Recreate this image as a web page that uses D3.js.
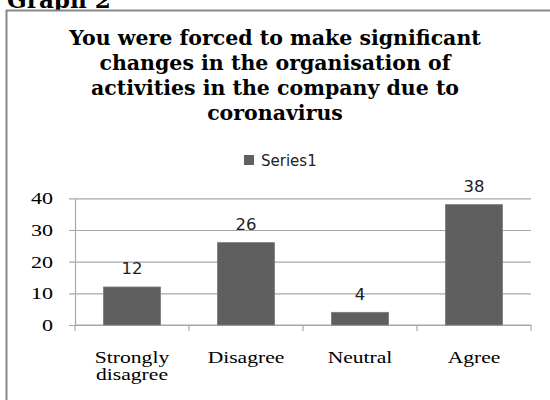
<!DOCTYPE html>
<html>
<head>
<meta charset="utf-8">
<script src="https://cdn.jsdelivr.net/npm/d3@7"></script>
<style>
  html, body { margin: 0; padding: 0; background: #fff; }
  svg { display: block; }
</style>
</head>
<body>
<svg id="chart" width="550" height="400"></svg>
<script>
// Survey answers: forced changes in organisation of company activities due to coronavirus
const categories = ["Strongly disagree", "Disagree", "Neutral", "Agree"];
const categoryLines = [["Strongly", "disagree"], ["Disagree"], ["Neutral"], ["Agree"]];
const series1 = [12, 26, 4, 38];
const yTicks = [0, 10, 20, 30, 40];
const seriesName = "Series1";
const titleLines = [
  "You were forced to make significant",
  "changes in the organisation of",
  "activities in the company due to",
  "coronavirus"
];

const W = 550, H = 400;
const svg = d3.select("#chart");
const serif = "'Liberation Serif', 'DejaVu Serif', serif";
const boldSerif = "'DejaVu Serif', 'Liberation Serif', serif";
const sans = "'DejaVu Sans', Verdana, sans-serif";

// text stretched horizontally (wide rendering of the original fonts)
function wideText(g, x, y, str, opts) {
  return g.append("text")
    .attr("transform", `translate(${x},${y}) scale(${opts.sx || 1},1)`)
    .attr("text-anchor", opts.anchor || "middle")
    .style("font-family", opts.family)
    .style("font-size", opts.size + "px")
    .style("font-weight", opts.weight || "normal")
    .attr("fill", opts.fill || "#000")
    .text(str);
}

svg.append("rect").attr("width", W).attr("height", H).attr("fill", "#fff");

// heading above the chart frame
wideText(svg, 7, 8, "Graph 2", { family: boldSerif, size: 22, weight: "bold", sx: 1.05, anchor: "start" });

// chart frame
svg.append("rect")
  .attr("x", 6.5).attr("y", 10.5)
  .attr("width", 560).attr("height", 400)
  .attr("fill", "#fff")
  .attr("stroke", "#888").attr("stroke-width", 2);

// title
titleLines.forEach((line, i) => {
  wideText(svg, 275, 45 + i * 25, line, { family: boldSerif, size: 20.5, weight: "bold", sx: 1.0 });
});

// legend
const legend = svg.append("g");
legend.append("rect").attr("x", 244).attr("y", 155).attr("width", 10).attr("height", 10).attr("fill", "#606060");
legend.append("text")
  .attr("x", 261).attr("y", 165.5)
  .style("font-family", sans).style("font-size", "15px").attr("fill", "#222")
  .text(seriesName);

// scales
const plot = { left: 75, right: 531, top: 198.3, bottom: 325 };
const x = d3.scaleBand().domain(categories).range([plot.left, plot.right]).paddingInner(0.5).paddingOuter(0.25);
const y = d3.scaleLinear().domain([0, 40]).range([plot.bottom, plot.top]);
const gridColor = "#a8a8a8";

// horizontal gridlines with y ticks
const yAxis = d3.axisLeft(y).tickValues(yTicks).tickSize(-(plot.right - plot.left)).tickSizeOuter(0).tickFormat("");
const gy = svg.append("g").attr("transform", `translate(${plot.left},0)`).call(yAxis);
gy.select(".domain").attr("stroke", gridColor).attr("stroke-width", 1.2);
gy.selectAll(".tick line").attr("stroke", gridColor).attr("stroke-width", 1.2).attr("x1", -6);

yTicks.forEach(v => {
  wideText(svg, 53, y(v) + 6, String(v), { family: serif, size: 17, sx: 1.3, anchor: "end" });
});

// x axis: line plus tick marks at category boundaries
const step = x.step();
const boundaries = d3.range(categories.length + 1).map(i => plot.left + i * step);
svg.append("line")
  .attr("x1", plot.left).attr("x2", plot.right)
  .attr("y1", y(0)).attr("y2", y(0))
  .attr("stroke", gridColor).attr("stroke-width", 1.2);
svg.selectAll(".xtick").data(boundaries).join("line")
  .attr("class", "xtick")
  .attr("x1", d => d).attr("x2", d => d)
  .attr("y1", y(0)).attr("y2", y(0) + 6)
  .attr("stroke", gridColor).attr("stroke-width", 1.2);

// bars
svg.selectAll(".bar").data(series1).join("rect")
  .attr("class", "bar")
  .attr("x", (d, i) => x(categories[i]))
  .attr("width", x.bandwidth())
  .attr("y", d => y(d))
  .attr("height", d => y(0) - y(d))
  .attr("fill", "#5f5f5f")
  .attr("stroke", "#7a7a7a").attr("stroke-width", 0.8);

// value labels
series1.forEach((v, i) => {
  const cx = x(categories[i]) + x.bandwidth() / 2;
  wideText(svg, cx, y(v) - 12.5, String(v), { family: sans, size: 15, sx: 1.1, fill: "#222" });
});

// category labels
categoryLines.forEach((lines, i) => {
  const cx = x(categories[i]) + x.bandwidth() / 2;
  lines.forEach((ln, j) => {
    wideText(svg, cx, 363 + j * 17, ln, { family: serif, size: 16, sx: 1.35 });
  });
});
</script>
</body>
</html>
